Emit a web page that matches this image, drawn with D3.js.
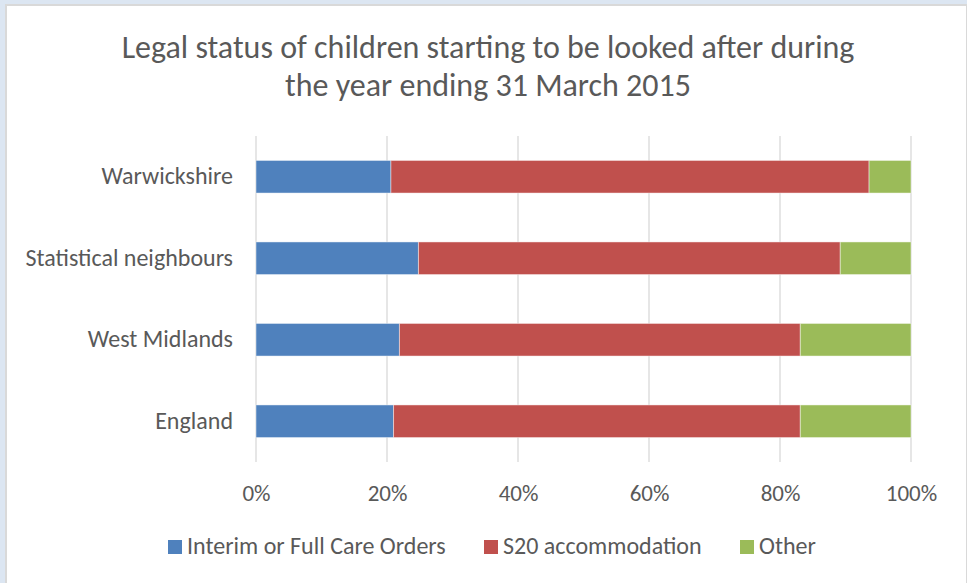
<!DOCTYPE html>
<html>
<head>
<meta charset="utf-8">
<script src="https://cdn.jsdelivr.net/npm/d3@7"></script>
<style>
  body { margin: 0; background: #dce6f2; }
  text { font-family: Carlito, Lato, "Open Sans", sans-serif; fill: #595959; }
</style>
</head>
<body>
<div id="chart"></div>
<script>
// data (percent of children)
var categories = ["Warwickshire", "Statistical neighbours", "West Midlands", "England"];
var seriesNames = ["Interim or Full Care Orders", "S20 accommodation", "Other"];
var interim = [20.6, 24.8, 21.9, 21.0];
var s20 = [73.0, 64.4, 61.2, 62.1];
var other = [6.4, 10.8, 16.9, 16.9];
var tickValues = [0, 20, 40, 60, 80, 100];
var colors = ["#4f81bd", "#c0504d", "#9bbb59"];

var W = 967, H = 583;
var margin = {top: 136, right: 56, bottom: 121, left: 256},
    width = W - margin.left - margin.right,
    height = H - margin.top - margin.bottom;

var svg = d3.select("#chart")
  .append("svg")
    .attr("width", W)
    .attr("height", H)
    .style("display", "block");

// chart frame
svg.append("rect")
  .attr("x", 6).attr("y", 5)
  .attr("width", W - 6).attr("height", H)
  .attr("fill", "#fff")
  .attr("stroke", "#d9d9d9")
  .attr("stroke-width", 2);

// title
svg.append("text")
  .attr("x", 488).attr("y", 58)
  .attr("text-anchor", "middle")
  .style("font-size", "32px")
  .text("Legal status of children starting to be looked after during");
svg.append("text")
  .attr("x", 488).attr("y", 96)
  .attr("text-anchor", "middle")
  .style("font-size", "32px")
  .text("the year ending 31 March 2015");

var g = svg.append("g")
  .attr("transform", "translate(" + margin.left + "," + margin.top + ")");

var x = d3.scaleLinear()
  .domain([0, 100])
  .range([0, width]);

var y = d3.scaleBand()
  .domain(categories)
  .range([0, height])
  .paddingInner(0.6)
  .paddingOuter(0.3);

// gridlines
g.selectAll(".grid")
  .data(tickValues)
  .enter()
  .append("line")
    .attr("x1", function(d) { return x(d); })
    .attr("x2", function(d) { return x(d); })
    .attr("y1", 0)
    .attr("y2", height)
    .attr("stroke", "#d9d9d9")
    .attr("stroke-width", 1.3);

// x axis labels
var xAxis = g.append("g")
  .attr("transform", "translate(0," + height + ")")
  .call(d3.axisBottom(x).tickValues(tickValues).tickSize(0).tickPadding(23)
    .tickFormat(function(d) { return d + "%"; }));
xAxis.select(".domain").remove();
xAxis.selectAll("text").style("font-size", "23px").attr("fill", "#595959");

// y axis labels
var yAxis = g.append("g")
  .call(d3.axisLeft(y).tickSize(0).tickPadding(23));
yAxis.select(".domain").remove();
yAxis.selectAll("text").style("font-size", "24px").attr("fill", "#595959");

// stacked data
var rows = categories.map(function(c, i) {
  return {cat: c, s0: interim[i], s1: s20[i], s2: other[i]};
});
var stacked = d3.stack().keys(["s0", "s1", "s2"])(rows);

g.selectAll(".series")
  .data(stacked)
  .enter()
  .append("g")
    .attr("fill", function(d, i) { return colors[i]; })
  .selectAll("rect")
  .data(function(d) { return d; })
  .enter()
  .append("rect")
    .attr("x", function(d) { return x(d[0]); })
    .attr("width", function(d) { return x(d[1]) - x(d[0]); })
    .attr("y", function(d) { return y(d.data.cat); })
    .attr("height", y.bandwidth())
    .attr("stroke", "#fff")
    .attr("stroke-opacity", 0.45)
    .attr("stroke-width", 1);

// legend
var legendX = [168, 484, 740];
var legend = svg.selectAll(".legend")
  .data(seriesNames)
  .enter()
  .append("g")
    .attr("transform", function(d, i) { return "translate(" + legendX[i] + ",540)"; });
legend.append("rect")
  .attr("width", 14).attr("height", 14)
  .attr("fill", function(d, i) { return colors[i]; });
legend.append("text")
  .attr("x", 19).attr("y", 14)
  .style("font-size", "24px")
  .text(function(d) { return d; });
</script>
</body>
</html>
